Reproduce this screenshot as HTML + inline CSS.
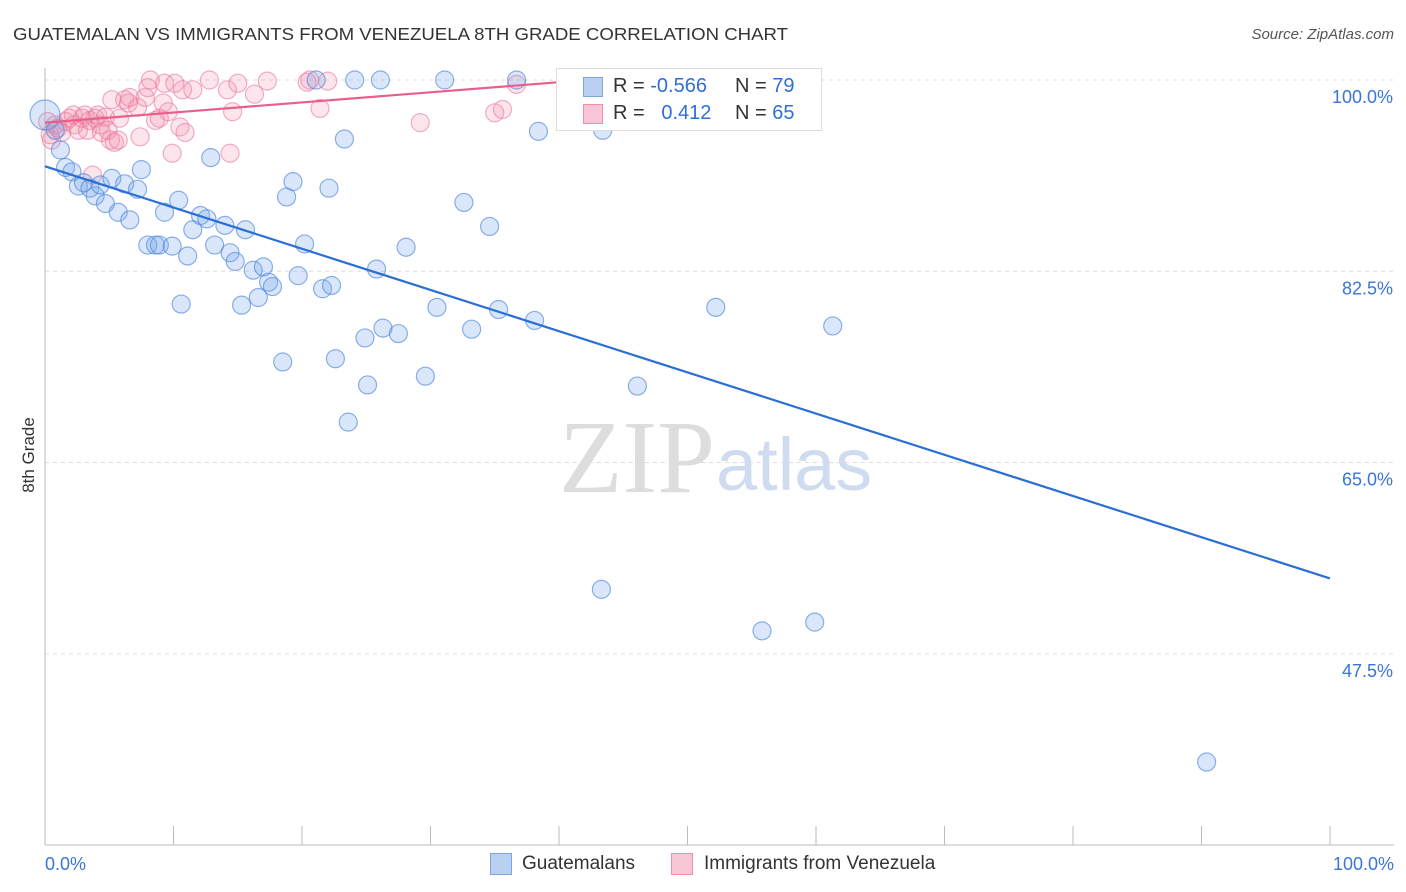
<!DOCTYPE html>
<html><head><meta charset="utf-8"><style>
body{margin:0;background:#fff;font-family:"Liberation Sans",sans-serif;}
#wrap{position:relative;width:1406px;height:892px;overflow:hidden;}
</style></head><body>
<div id="wrap">
<svg id="svg" width="1406" height="892" xmlns="http://www.w3.org/2000/svg">
<text x="13" y="40" font-size="17.5" fill="#333" textLength="775" lengthAdjust="spacingAndGlyphs">GUATEMALAN VS IMMIGRANTS FROM VENEZUELA 8TH GRADE CORRELATION CHART</text>
<text x="1394" y="39" font-size="15" fill="#555" font-style="italic" text-anchor="end">Source: ZipAtlas.com</text>
<text x="34" y="455" font-size="17" fill="#333" text-anchor="middle" transform="rotate(-90 34 455)">8th Grade</text>
<text x="715" y="492" font-size="104" fill="#ddd" text-anchor="end" font-family="Liberation Serif,serif">ZIP</text>
<text x="716" y="490" font-size="74" fill="#cfdcf0">atlas</text>
<g id="grid"></g><g id="pts"></g><g id="lines"></g>
</svg>
<div style="position:absolute;left:556px;top:68px;width:264px;height:61px;border:1px solid #ddd;background:#fff;font-size:20px;color:#333;">
<div style="position:absolute;left:26px;top:8px;width:18px;height:18px;background:#b9d0f3;border:1px solid #7ea6e0;"></div>
<div style="position:absolute;left:56px;top:6px;">R = <span style="color:#2f6fd6">-0.566</span></div>
<div style="position:absolute;left:178px;top:6px;">N = <span style="color:#2f6fd6">79</span></div>
<div style="position:absolute;left:26px;top:35px;width:18px;height:18px;background:#f8c6d5;border:1px solid #f08cb0;"></div>
<div style="position:absolute;left:56px;top:33px;">R = &nbsp;&nbsp;<span style="color:#2f6fd6">0.412</span></div>
<div style="position:absolute;left:178px;top:33px;">N = <span style="color:#2f6fd6">65</span></div>
</div>
<div style="position:absolute;left:490px;top:853px;width:20px;height:20px;background:#b9d0f3;border:1px solid #7ea6e0;"></div>
<div style="position:absolute;left:522px;top:853px;font-size:19px;color:#333;">Guatemalans</div>
<div style="position:absolute;left:671px;top:853px;width:20px;height:20px;background:#f8c6d5;border:1px solid #f08cb0;"></div>
<div style="position:absolute;left:704px;top:853px;font-size:19px;color:#333;">Immigrants from Venezuela</div>
</div>
<script>
const yTicks=[100,82.5,65,47.5];
const yTickLabels=["100.0%","82.5%","65.0%","47.5%"];
const xTickLabels=["0.0%","100.0%"];
const blueX=[0,0.8,1.2,1.6,2.1,2.6,3.0,3.5,3.9,4.3,4.7,5.2,5.7,6.2,6.6,7.2,7.5,8.0,8.6,8.9,9.3,9.9,10.4,10.6,11.1,11.5,12.1,12.6,12.9,13.2,14.0,14.4,14.8,15.3,15.6,16.2,16.6,17.0,17.4,17.7,18.5,18.8,19.3,19.7,20.2,21.1,21.6,22.1,22.3,22.6,23.3,23.6,24.1,24.9,25.1,25.8,26.1,26.3,27.5,28.1,29.6,30.5,31.1,32.6,33.2,34.6,35.3,36.7,38.1,38.4,43.3,43.4,46.1,52.2,55.8,58.5,59.9,61.3,90.4];
const blueY=[96.8,95.4,93.6,92.0,91.6,90.3,90.6,90.1,89.4,90.4,88.7,91.0,87.9,90.5,87.2,90.0,91.8,84.9,84.9,84.9,87.9,84.8,89.0,79.5,83.9,86.3,87.6,87.3,92.9,84.9,86.7,84.2,83.4,79.4,86.3,82.6,80.1,82.9,81.5,81.1,74.2,89.3,90.7,82.1,85.0,100,80.9,90.1,81.2,74.5,94.6,68.7,100,76.4,72.1,82.7,100,77.3,76.8,84.7,72.9,79.2,100,88.8,77.2,86.6,79.0,100,78.0,95.3,53.4,95.4,72.0,79.2,49.6,100,50.4,77.5,37.6];
const pinkX=[0.2,0.4,0.5,0.8,1.0,1.3,1.6,1.9,2.2,2.3,2.6,2.9,3.1,3.3,3.5,3.7,3.9,4.1,4.3,4.4,4.7,4.9,5.1,5.2,5.4,5.7,5.8,6.2,6.5,6.6,7.2,7.4,7.8,8.0,8.2,8.6,8.9,9.2,9.3,9.6,9.9,10.1,10.5,10.7,10.9,11.5,12.8,14.2,14.4,14.6,15.0,16.3,17.3,20.4,20.6,21.4,22.0,29.2,35.0,35.6,36.7];
const pinkY=[96.2,95.0,94.5,95.9,95.6,95.2,96.2,96.5,96.8,95.9,95.4,96.5,96.8,95.4,96.3,91.3,96.5,96.8,95.9,95.2,96.6,95.4,94.5,98.2,94.3,94.5,96.5,98.2,97.9,98.4,97.5,94.8,98.4,99.3,100,96.3,96.5,97.9,99.7,97.1,93.3,99.7,95.7,99.1,95.2,99.1,100,99.1,93.3,97.1,99.7,98.7,99.9,99.8,100,97.4,99.9,96.1,97.0,97.3,99.6];
const blueFit=[92.1,-0.377];
const pinkFit=[96.1,0.0925];
const X=v=>45+v*12.85, Y=v=>80+(100-v)*10.93;
const NS="http://www.w3.org/2000/svg";
function mk(t,a,p){const e=document.createElementNS(NS,t);for(const k in a)e.setAttribute(k,a[k]);p.appendChild(e);return e;}
const svg=document.getElementById('svg'),grid=document.getElementById('grid'),pts=document.getElementById('pts'),lines=document.getElementById('lines');
yTicks.forEach((v,i)=>{
 const l=mk('line',{x1:45,x2:1394,y1:Y(v),y2:Y(v),stroke:'#ddd','stroke-dasharray':'4,4'},grid);
 
 
 const t=mk('text',{x:1393,y:Y(v)+23,'font-size':18,fill:'#3a75d8','text-anchor':'end'},grid);
 t.textContent=yTickLabels[i];
 
 
});
const ax=mk('line',{x1:45,x2:45,y1:68,y2:845,stroke:'#bbb'},grid);


const bx=mk('line',{x1:45,x2:1394,y1:845,y2:845,stroke:'#bbb'},grid);


for(let i=0;i<=10;i++){const t=mk('line',{x1:X(i*10),x2:X(i*10),y1:826,y2:845,stroke:'#bbb'},grid);
 
 }
[[0,'start',45],[100,'end',1394]].forEach((d,i)=>{const t=mk('text',{x:d[2],y:870,'font-size':18,fill:'#3a75d8','text-anchor':d[1]},grid);t.textContent=xTickLabels[i];
 
 });
pinkX.forEach((x,i)=>{const c=mk('circle',{cx:X(x),cy:Y(pinkY[i]),r:9,fill:'rgba(240,140,170,0.22)',stroke:'rgba(235,120,160,0.6)','stroke-width':1.2},pts);
 
 });
blueX.forEach((x,i)=>{const c=mk('circle',{cx:X(x),cy:Y(blueY[i]),r:i==0?15:9,fill:'rgba(120,165,235,0.27)',stroke:'rgba(80,135,220,0.65)','stroke-width':1.2},pts);
 
 });
const bl=mk('line',{x1:X(0),y1:Y(blueFit[0]),x2:X(100),y2:Y(blueFit[0]+100*blueFit[1]),stroke:'#2a6fd6','stroke-width':2.2},lines);


const pl=mk('line',{x1:X(0),y1:Y(pinkFit[0]),x2:X(40),y2:Y(pinkFit[0]+40*pinkFit[1]),stroke:'#e8608a','stroke-width':2.2},lines);


</script>
</body></html>
